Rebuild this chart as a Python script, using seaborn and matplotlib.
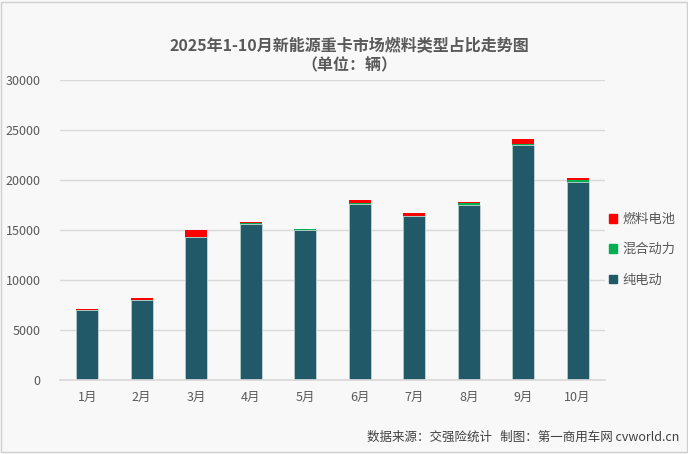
import matplotlib
matplotlib.use("Agg")
import matplotlib.pyplot as plt
from matplotlib.patches import Patch, Rectangle
import pandas as pd
import seaborn as sns

months = ["1月", "2月", "3月", "4月", "5月", "6月", "7月", "8月", "9月", "10月"]
pure_ev = [7000, 7950, 14250, 15550, 15000, 17630, 16350, 17470, 23500, 19800]
hybrid = [20, 50, 80, 120, 70, 80, 80, 220, 100, 200]
fuel_cell = [80, 200, 700, 170, 30, 320, 240, 110, 500, 230]

title = "2025年1-10月新能源重卡市场燃料类型占比走势图\n（单位：辆）"
source = "数据来源：交强险统计   制图：第一商用车网 cvworld.cn"

sns.set_theme(style="white")
plt.rcParams["font.family"] = ["Noto Sans CJK SC", "DejaVu Sans"]

bg = "#f8f8f8"
txt = "#595959"

df = pd.DataFrame({"month": months, "pure": pure_ev, "hybrid": hybrid, "fuel": fuel_cell})
df["lvl2"] = df["pure"] + df["hybrid"]
df["lvl3"] = df["lvl2"] + df["fuel"]

fig = plt.figure(figsize=(6.88, 4.54), dpi=100, facecolor=bg)
ax = fig.add_axes([0.0872, 0.163, 0.792, 0.661])
ax.set_facecolor(bg)

sns.barplot(data=df, x="month", y="lvl3", color="#ff0000", width=0.4, ax=ax,
            saturation=1, linewidth=0)
sns.barplot(data=df, x="month", y="lvl2", color="#00b050", width=0.4, ax=ax,
            saturation=1, linewidth=0)
sns.barplot(data=df, x="month", y="pure", color="#215968", width=0.4, ax=ax,
            saturation=1, edgecolor="#c9d3d6", linewidth=0.6)

ax.set_ylim(0, 30000)
ax.set_yticks(range(0, 30001, 5000))
ax.set_xlim(-0.5, 9.5)
ax.yaxis.grid(True, color="#d9d9d9", linewidth=1)
ax.set_axisbelow(True)
for s in ax.spines.values():
    s.set_visible(False)
ax.spines["bottom"].set_visible(True)
ax.spines["bottom"].set_color("#d9d9d9")
ax.set_xlabel("")
ax.set_ylabel("")
ax.tick_params(axis="both", length=0, labelsize=9, colors=txt, pad=8)
ax.tick_params(axis="y", pad=14)

fig.text(0.508, 0.878, title, ha="center", va="center", fontsize=11.5,
         color=txt, fontweight="bold", linespacing=1.35)

handles = [Patch(color="#ff0000", label="燃料电池"),
           Patch(color="#00b050", label="混合动力"),
           Patch(color="#215968", label="纯电动")]
fig.legend(handles=handles, loc="center left", bbox_to_anchor=(0.868, 0.45),
           frameon=False, fontsize=9.5, labelcolor=txt, handlelength=0.6,
           handleheight=0.6, handletextpad=0.4, labelspacing=1.3)

fig.text(0.988, 0.037, source, ha="right", va="center", fontsize=9, color="#404040")

fig.patches.append(Rectangle((0.002, 0.004), 0.996, 0.992, transform=fig.transFigure,
                             fill=False, edgecolor="#d0d0d0", linewidth=1))

fig.savefig("out.png", dpi=100, facecolor=bg)
